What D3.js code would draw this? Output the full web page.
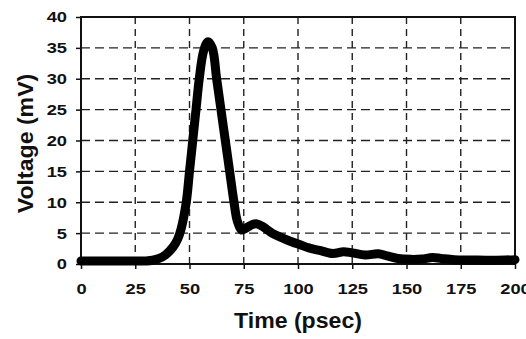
<!DOCTYPE html>
<html>
  <head>
    <meta charset="UTF-8">
    <style>
      body {
        margin: 0;
        background: #fff;
        font-family: Arial, "Liberation Sans", Helvetica, sans-serif;
      }
      .tick-label {
        font-size: 15.5px;
        font-weight: bold;
        fill: #111;
      }
      .title {
        font-size: 22px;
        font-weight: bold;
        fill: #111;
      }
    </style>
    <script src="https://d3js.org/d3.v7.min.js"></script>
  </head>
  <body>
    <svg id="chart"></svg>

    <script type="text/javascript">
      // pulse
      let timePs = [0, 10, 20, 30, 33, 36, 39, 42.5, 44.5, 46, 48.5, 50, 51.5, 53, 54.5, 56.5, 58.5,
        60.5, 62.5, 64.5, 66.5, 68.5, 70.5, 72, 74, 76, 79, 81, 84, 88, 93, 97, 101, 105, 110,
        116, 121, 125, 131, 137, 141, 146, 152, 157, 162, 166, 172, 180, 190, 200]
      let voltageMv = [0.5, 0.5, 0.5, 0.5, 0.6, 0.9, 1.5, 2.8, 4, 5.5, 10, 15, 20, 25, 30, 34.5, 36,
        35, 30, 25, 20, 15, 10, 7, 5.5, 5.8, 6.4, 6.5, 6, 5, 4.2, 3.6, 3.1, 2.6, 2.2,
        1.7, 2.0, 1.8, 1.45, 1.65, 1.3, 0.9, 0.75, 0.8, 1.05, 0.9, 0.7, 0.65, 0.6, 0.7]

      let xTicks = [0, 25, 50, 75, 100, 125, 150, 175, 200]
      let yTicks = [0, 5, 10, 15, 20, 25, 30, 35, 40]

      let width = 526
      let height = 339
      let margin = {top: 17, right: 11, bottom: 75, left: 81}
      let bodyWidth = width - margin.left - margin.right
      let bodyHeight = height - margin.top - margin.bottom

      let svg = d3.select('#chart')
        .attr('width', width)
        .attr('height', height)

      let x = d3.scaleLinear().domain([0, 200]).range([margin.left, margin.left + bodyWidth])
      let y = d3.scaleLinear().domain([0, 40]).range([margin.top + bodyHeight, margin.top])

      let grid = svg.append('g').attr('stroke', '#222').attr('stroke-width', 1.4)

      grid.selectAll('line.h')
        .data(yTicks.slice(1, -1))
        .join('line')
          .attr('class', 'h')
          .attr('x1', x(0)).attr('x2', x(200))
          .attr('y1', d => y(d)).attr('y2', d => y(d))
          .attr('stroke-dasharray', '9,5')

      grid.selectAll('line.v')
        .data(xTicks.slice(1, -1))
        .join('line')
          .attr('class', 'v')
          .attr('y1', y(0)).attr('y2', y(40))
          .attr('x1', d => x(d)).attr('x2', d => x(d))
          .attr('stroke-dasharray', '7,5')

      // frame
      svg.append('rect')
        .attr('x', x(0)).attr('y', y(40))
        .attr('width', x(200) - x(0)).attr('height', y(0) - y(40))
        .attr('fill', 'none')
        .attr('stroke', '#111')
        .attr('stroke-width', 2)

      let xAxis = svg.append('g')
        .attr('transform', `translate(0, ${y(0)})`)
        .call(d3.axisBottom(x).tickValues(xTicks).tickSize(5).tickPadding(14))
      xAxis.select('.domain').remove()
      xAxis.selectAll('line').attr('stroke', '#111').attr('stroke-width', 1.5)
      xAxis.selectAll('text').attr('class', 'tick-label').attr('font-family', null).attr('font-size', null)

      let yAxis = svg.append('g')
        .attr('transform', `translate(${x(0)}, 0)`)
        .call(d3.axisLeft(y).tickValues(yTicks).tickSize(5).tickPadding(9))
      yAxis.select('.domain').remove()
      yAxis.selectAll('line').attr('stroke', '#111').attr('stroke-width', 1.5)
      yAxis.selectAll('text').attr('class', 'tick-label').attr('font-family', null).attr('font-size', null)

      // the scan is a bit wide, stretch the labels to match
      svg.selectAll('.tick-label').each(function() {
        let w = this.getComputedTextLength()
        d3.select(this).attr('textLength', w * 1.18).attr('lengthAdjust', 'spacingAndGlyphs')
      })

      let line = d3.line()
        .x((d, i) => x(timePs[i]))
        .y(d => y(d))
        .curve(d3.curveCatmullRom)

      svg.append('path')
        .datum(voltageMv)
        .attr('d', line)
        .attr('fill', 'none')
        .attr('stroke', '#000')
        .attr('stroke-width', 9)
        .attr('stroke-linejoin', 'round')
        .attr('stroke-linecap', 'round')

      let xTitle = svg.append('text')
        .attr('class', 'title')
        .attr('x', (x(0) + x(200)) / 2)
        .attr('y', 328)
        .attr('text-anchor', 'middle')
        .text('Time (psec)')

      let yTitle = svg.append('text')
        .attr('class', 'title')
        .attr('transform', `translate(33, ${(y(0) + y(40)) / 2 + 3}) rotate(-90)`)
        .attr('text-anchor', 'middle')
        .text('Voltage (mV)')

      ;[xTitle, yTitle].forEach(t => {
        let w = t.node().getComputedTextLength()
        t.attr('textLength', w * 1.05).attr('lengthAdjust', 'spacingAndGlyphs')
      })
    </script>
  </body>
</html>
